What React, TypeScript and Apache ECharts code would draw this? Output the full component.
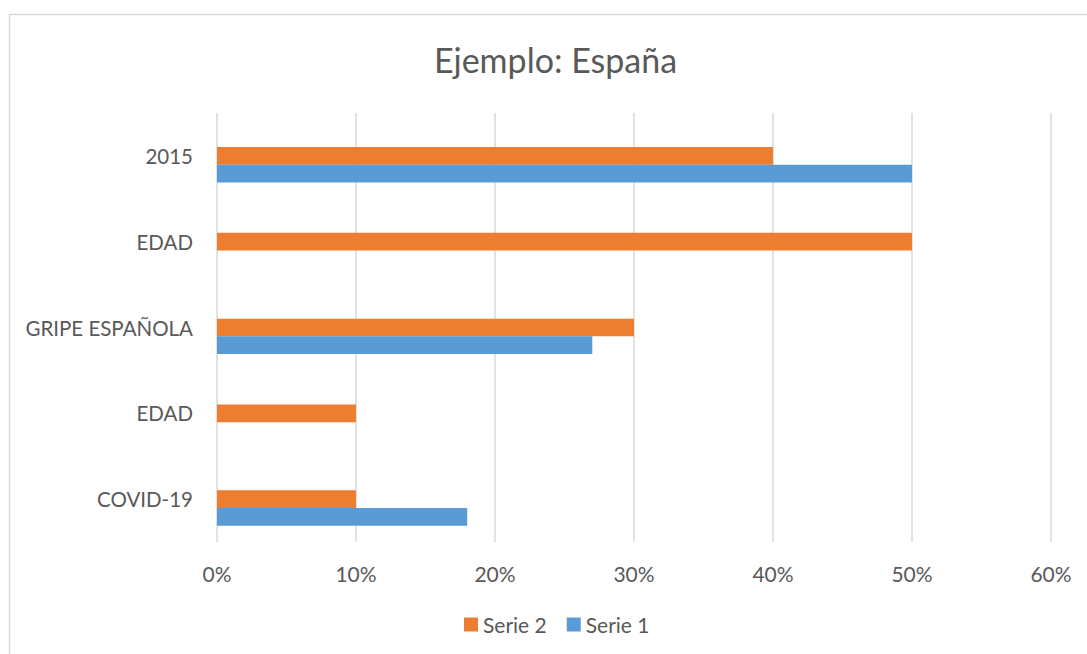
import React, { useEffect, useRef } from "react";
import * as echarts from "echarts";

const categories = ["COVID-19", "EDAD", "GRIPE ESPAÑOLA", "EDAD", "2015"];
const serie2 = [10, 10, 30, 50, 40];
const serie1: (number | string)[] = [18, "-", 27, "-", 50];
const emptySeries: (number | string)[] = ["-", "-", "-", "-", "-"];
const xTicks = { min: 0, max: 60, interval: 10 };
const titleText = "Ejemplo: España";

const FONT = "Lato, 'Noto Sans', sans-serif";
const TXT = "#595959";

export default function App() {
  const ref = useRef<HTMLDivElement>(null);
  useEffect(() => {
    if (!ref.current) return;
    const chart = echarts.init(ref.current, undefined, { renderer: "svg" });
    chart.setOption({
      animation: false,
      backgroundColor: "#ffffff",
      textStyle: { fontFamily: FONT, color: TXT },
      graphic: [
        {
          type: "rect",
          shape: { x: 9.5, y: 14.5, width: 1200, height: 800 },
          style: { fill: "none", stroke: "#D9D9D9", lineWidth: 1.5 },
          silent: true,
        },
        {
          type: "text",
          x: 555.5,
          y: 59,
          style: {
            text: titleText,
            fontFamily: FONT,
            fontSize: 34,
            fill: TXT,
            align: "center",
            verticalAlign: "middle",
          },
        },
      ],
      legend: {
        data: ["Serie 2", "Serie 1"],
        left: 464,
        top: 614,
        padding: 0,
        itemWidth: 14,
        itemHeight: 14,
        itemGap: 20,
        icon: "rect",
        textStyle: { fontFamily: FONT, fontSize: 21, color: TXT },
      },
      grid: { left: 217, right: 36, top: 113, bottom: 112, containLabel: false },
      xAxis: {
        type: "value",
        min: xTicks.min,
        max: xTicks.max,
        interval: xTicks.interval,
        axisLine: { show: false },
        axisTick: { show: false },
        splitLine: { show: true, lineStyle: { color: "#D9D9D9", width: 1.5 } },
        axisLabel: {
          formatter: "{value}%",
          fontFamily: FONT,
          fontSize: 21,
          color: TXT,
          margin: 21,
        },
      },
      yAxis: {
        type: "category",
        data: categories,
        axisLine: { show: false },
        axisTick: { show: false },
        axisLabel: { fontFamily: FONT, fontSize: 20.5, color: TXT, margin: 24 },
      },
      series: [
        {
          name: "vacía",
          type: "bar",
          data: emptySeries,
          barWidth: 17.7,
          barGap: "0%",
          itemStyle: { color: "#A5A5A5" },
        },
        {
          name: "Serie 2",
          type: "bar",
          data: serie2,
          barWidth: 17.7,
          barGap: "0%",
          itemStyle: { color: "#ED7D31" },
        },
        {
          name: "Serie 1",
          type: "bar",
          data: serie1,
          barWidth: 17.7,
          barGap: "0%",
          itemStyle: { color: "#5B9BD5" },
        },
      ],
    });
    return () => chart.dispose();
  }, []);
  return (
    <div
      ref={ref}
      style={{ position: "fixed", left: 0, top: 0, width: 1087, height: 654 }}
    />
  );
}
